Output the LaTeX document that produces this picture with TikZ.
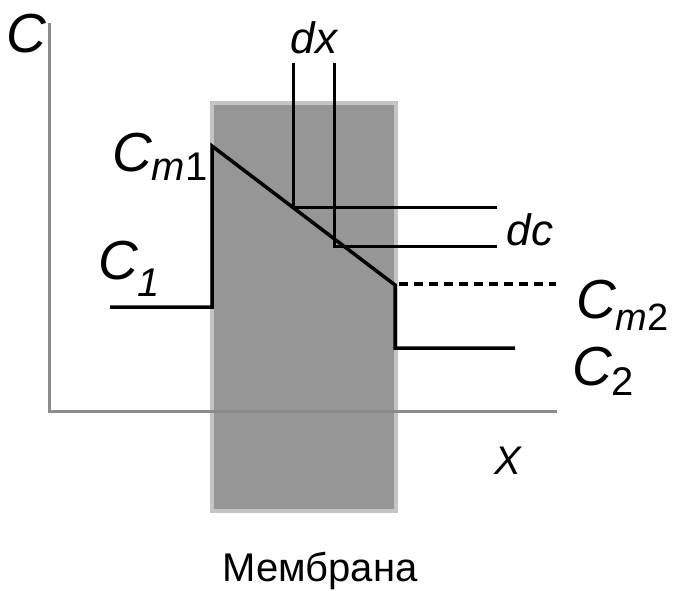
\documentclass[tikz,border=0pt]{standalone}
\usepackage{fontspec}
\setmainfont{Liberation Sans}
\usepackage{tikz}
\usetikzlibrary{positioning}
\definecolor{axisgray}{HTML}{8C8C8C}
\definecolor{membfill}{HTML}{969696}
\definecolor{membedge}{HTML}{C4C4C4}
\newcommand{\fsz}[1]{\fontsize{#1}{#1}\selectfont}
\tikzset{
  axisline/.style={draw=axisgray, line width=3pt},
  membrane/.style={fill=membfill, draw=membedge, line width=3.5pt},
  profile/.style={draw=black, line width=3.5pt, line join=miter},
  guide/.style={draw=black, line width=3pt},
  bigsym/.style={inner sep=0pt, font=\itshape\fsz{55}},
  smallsym/.style={inner sep=0pt, font=\itshape\fsz{44}},
  caption/.style={inner sep=0pt, font=\fsz{40}},
}
\begin{document}
\begin{tikzpicture}[x=1pt,y=-1pt]
  \useasboundingbox (0,0) rectangle (674,590);
  % membrane slab
  \draw[membrane] (212,103) rectangle (396,511);
  % axes
  \draw[axisline] (49,23) -- (49,411) -- (557,411);
  % concentration profile
  \coordinate (c1a) at (110,307);
  \coordinate (c1b) at (212,307);
  \coordinate (cm1) at (212,146);
  \coordinate (cm2) at (395,285);
  \coordinate (c2a) at (395,348);
  \coordinate (c2b) at (515,348);
  \draw[profile] (c1a) -- (c1b) -- (cm1) -- (cm2) -- (c2a) -- (c2b);
  % dx / dc guides
  \coordinate (dxa) at (293,63);
  \coordinate (dxb) at (293,207);
  \coordinate (dxc) at (334,63);
  \coordinate (dxd) at (334,246);
  \draw[guide] (dxa) -- (dxb) -- (497,207);
  \draw[guide] (dxc) -- (dxd) -- (497,246);
  \draw[guide, line width=3.5pt, dash pattern=on 9pt off 6pt] (399,284) -- (556,284);
  % labels
  \node[bigsym, anchor=base west] (lc) at (6,52) {C};
  \node[bigsym, anchor=base west] (lcm1) at (112,171)
    {C\raisebox{-9pt}{\fsz{40}m\upshape 1}};
  \node[bigsym, anchor=base west] (lc1) at (98,279)
    {C\raisebox{-17pt}{\fsz{40}1}};
  \node[smallsym, anchor=base] (ldx) at (314,53) {dx};
  \node[smallsym, anchor=base] (ldc) at (530,245) {dc};
  \node[bigsym, anchor=base west] (lcm2) at (576,318)
    {C\raisebox{-12pt}{\fsz{38}m\upshape 2}};
  \node[bigsym, anchor=base west] (lc2) at (572,385)
    {C\raisebox{-10pt}{\fsz{40}\upshape 2}};
  \node[caption, anchor=base, font=\itshape\fsz{40}] (lx) at (508,474) {X};
  \node[caption, anchor=base] (lmem) at (320,581) {Мембрана};
\end{tikzpicture}
\end{document}
